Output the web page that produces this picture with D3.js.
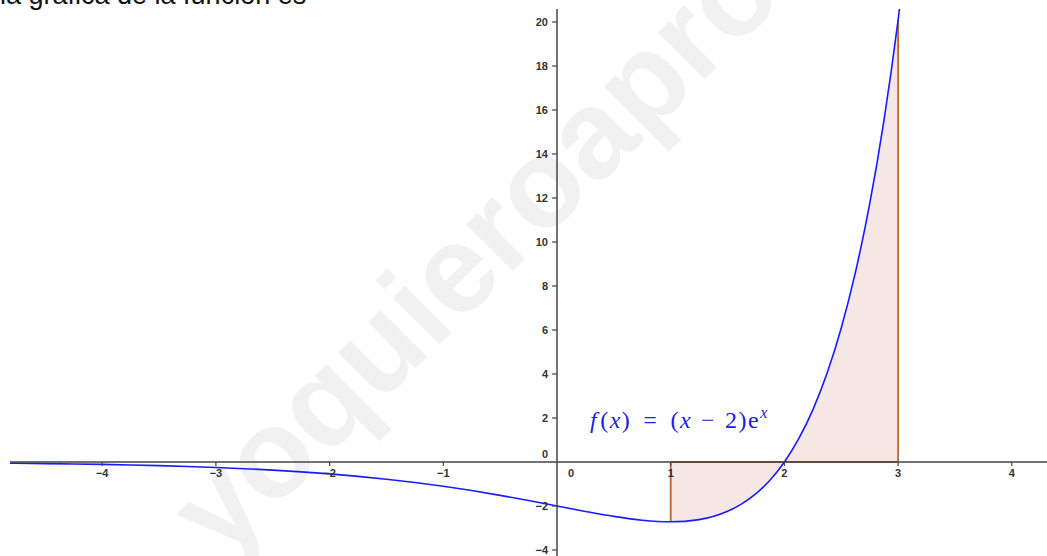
<!DOCTYPE html>
<html>
<head>
<meta charset="utf-8">
<script src="https://cdn.jsdelivr.net/npm/d3@7"></script>
<style>
html,body{margin:0;padding:0;background:#fff;}
svg{display:block;}
</style>
</head>
<body>
<svg id="chart" width="1047" height="556"></svg>
<script>
// ---- data ----
const title = "la gráfica de la función es";
const watermark = "yoquieroaprobar";
const curveX = [-4.82,-4.75,-4.5,-4.25,-4,-3.75,-3.5,-3.25,-3,-2.75,-2.5,-2.25,-2,-1.75,-1.5,-1.25,-1,-0.75,-0.5,-0.25,0,0.25,0.5,0.75,1,1.25,1.5,1.625,1.75,1.875,2,2.125,2.25,2.375,2.5,2.625,2.75,2.875,3,3.1];
const curveY = [-0.055,-0.058,-0.072,-0.089,-0.110,-0.135,-0.166,-0.204,-0.249,-0.304,-0.369,-0.448,-0.541,-0.652,-0.781,-0.931,-1.104,-1.299,-1.516,-1.752,-2.0,-2.247,-2.473,-2.646,-2.718,-2.618,-2.241,-1.904,-1.439,-0.815,0,1.047,2.372,4.032,6.091,8.628,11.732,15.510,20.086,24.418];
const shadeFrom = 1, shadeTo = 3;
const xTicks = [-4,-3,-2,-1,1,2,3,4];
const xTickLabels = ["\u22124","\u22123","\u22122","\u22121","1","2","3","4"];
const yTicks = [-4,-2,2,4,6,8,10,12,14,16,18,20];
const yTickLabels = ["\u22124","\u22122","2","4","6","8","10","12","14","16","18","20"];

const W = 1047, H = 556;
const svg = d3.select("#chart");

const x = d3.scaleLinear().domain([0, 1]).range([557, 670.7]);
const y = d3.scaleLinear().domain([0, 20]).range([462, 22]);

const pts = curveX.map((v, i) => ({x: v, y: curveY[i]}));
const labelFont = "Liberation Sans, Arial, sans-serif";

// watermark
svg.append("text")
  .attr("transform", "translate(222,562) rotate(-45)")
  .attr("font-family", labelFont)
  .attr("font-weight", "bold")
  .attr("font-size", 125)
  .attr("fill", "#f1f1f1")
  .text(watermark);

// title
svg.append("text")
  .attr("x", 0).attr("y", 4)
  .attr("font-family", labelFont)
  .attr("font-size", 27)
  .attr("fill", "#111")
  .text(title);

// clip
svg.append("clipPath").attr("id", "plot")
  .append("rect").attr("x", 10).attr("y", 9).attr("width", W - 10).attr("height", H - 9);

const g = svg.append("g").attr("clip-path", "url(#plot)");

// shaded region
const shadePts = pts.filter(d => d.x >= shadeFrom && d.x <= shadeTo);
g.append("path")
  .datum(shadePts)
  .attr("fill", "#f5e8e4")
  .attr("stroke", "none")
  .attr("d", d3.area().x(d => x(d.x)).y0(y(0)).y1(d => y(d.y)).curve(d3.curveMonotoneX));

// axes
const axisColor = "#444";
svg.append("line").attr("x1", 10).attr("x2", W).attr("y1", y(0)).attr("y2", y(0))
  .attr("stroke", axisColor).attr("stroke-width", 1.5);
svg.append("line").attr("x1", x(0)).attr("x2", x(0)).attr("y1", 9).attr("y2", H)
  .attr("stroke", axisColor).attr("stroke-width", 1.5);

const tickText = (sel) => sel.attr("font-family", labelFont).attr("font-size", 11)
  .attr("font-weight", "bold").attr("fill", "#333");

// x ticks
xTicks.forEach((t, i) => {
  svg.append("line").attr("x1", x(t)).attr("x2", x(t)).attr("y1", y(0)).attr("y2", y(0) + 4)
    .attr("stroke", axisColor).attr("stroke-width", 1.2);
  svg.append("text").attr("x", x(t)).attr("y", y(0) + 15)
    .attr("text-anchor", "middle").call(tickText)
    .text(xTickLabels[i]);
});
// y ticks
yTicks.forEach((t, i) => {
  svg.append("line").attr("x1", x(0) - 5).attr("x2", x(0)).attr("y1", y(t)).attr("y2", y(t))
    .attr("stroke", axisColor).attr("stroke-width", 1.2);
  svg.append("text").attr("x", x(0) - 9).attr("y", y(t) + 4)
    .attr("text-anchor", "end").call(tickText)
    .text(yTickLabels[i]);
});
// zero labels
svg.append("text").attr("x", x(0) - 9).attr("y", y(0) - 4)
  .attr("text-anchor", "end").call(tickText).text("0");
svg.append("text").attr("x", x(0) + 14).attr("y", y(0) + 15)
  .attr("text-anchor", "middle").call(tickText).text("0");

// brown borders of region
const brown = "#b9652f";
const f1 = shadePts[0].y, f3 = shadePts[shadePts.length - 1].y;
g.append("line").attr("x1", x(shadeFrom)).attr("x2", x(shadeTo)).attr("y1", y(0)).attr("y2", y(0))
  .attr("stroke", brown).attr("stroke-width", 1.8);
g.append("line").attr("x1", x(shadeFrom)).attr("x2", x(shadeFrom)).attr("y1", y(0)).attr("y2", y(f1))
  .attr("stroke", brown).attr("stroke-width", 1.8);
g.append("line").attr("x1", x(shadeTo)).attr("x2", x(shadeTo)).attr("y1", y(0)).attr("y2", y(f3))
  .attr("stroke", brown).attr("stroke-width", 1.8);

// curve
g.append("path")
  .datum(pts)
  .attr("fill", "none")
  .attr("stroke", "#1a1aff")
  .attr("stroke-width", 1.6)
  .attr("d", d3.line().x(d => x(d.x)).y(d => y(d.y)).curve(d3.curveMonotoneX));

// formula label
const lab = svg.append("text").attr("x", 590).attr("y", 428)
  .attr("font-family", "Liberation Serif, Times New Roman, serif")
  .attr("font-size", 24).attr("fill", "#2020e0")
  .attr("letter-spacing", 1.5);
lab.append("tspan").attr("font-style", "italic").text("f");
lab.append("tspan").attr("dx", 2).text("(");
lab.append("tspan").attr("font-style", "italic").text("x");
lab.append("tspan").text(")");
lab.append("tspan").attr("dx", 12).text("=");
lab.append("tspan").attr("dx", 12).text("(");
lab.append("tspan").attr("font-style", "italic").text("x");
lab.append("tspan").attr("dx", 9).text("\u2212");
lab.append("tspan").attr("dx", 9).text("2)e");
lab.append("tspan").attr("font-style", "italic").attr("font-size", 16).attr("dy", -10).text("x");
</script>
</body>
</html>
